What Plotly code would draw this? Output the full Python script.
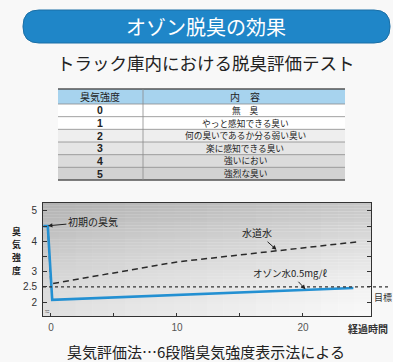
import plotly.graph_objects as go

W, H = 393, 362

# ---------------- data ----------------
ozone_t = [-0.6, -0.25, 0.1, 24.0]
ozone_v = [4.5, 4.5, 2.07, 2.46]
tap_t = [-0.25, 0.0, 10.0, 20.0, 24.3]
tap_v = [4.5, 2.6, 3.32, 3.79, 3.98]
target_v = 2.5
y_tickvals = [2, 2.5, 3, 3.5, 4, 4.5, 5]
y_ticktext = ["2", "2.5", "3", "", "4", "", "5"]
x_tickvals = [0, 5, 10, 15, 20]
x_ticktext = ["0", "", "10", "", "20"]
table_header = ["臭気強度", "内　容"]
intensity_levels = ["0", "1", "2", "3", "4", "5"]
intensity_desc = ["無　臭", "やっと感知できる臭い", "何の臭いであるか分る弱い臭い",
                  "楽に感知できる臭い", "強いにおい", "強烈な臭い"]
row_fills = ["#ffffff", "#ffffff", "#eeeeee", "#e5e5e5", "#dbdbdb", "#d2d2d2"]

JP = "Noto Sans CJK JP"
NUM = "Liberation Sans"


def X(p):
    return p / W


def Y(p):
    return 1 - p / H


# plot area in pixels
L, R, T, B = 43, 371, 203, 316

fig = go.Figure()

fig.add_trace(go.Scatter(x=tap_t, y=tap_v, mode="lines",
                         line=dict(color="#2a2a2a", width=1.5, dash="6px,4px"),
                         hoverinfo="skip"))
fig.add_trace(go.Scatter(x=ozone_t, y=ozone_v, mode="lines",
                         line=dict(color="#2390d2", width=2.6),
                         hoverinfo="skip"))

shapes = []
annotations = []


def text(xp, yp, s, size, color="#222222", family=JP, xanchor="center", yanchor="middle"):
    annotations.append(dict(xref="paper", yref="paper", x=X(xp), y=Y(yp), text=s,
                            showarrow=False, xanchor=xanchor, yanchor=yanchor,
                            borderpad=0,
                            font=dict(family=family, size=size, color=color)))


# plot background gradient (vertical)
n = 40
for i in range(n):
    y0 = B - (B - T) * i / n
    y1 = B - (B - T) * (i + 1) / n
    f = (i + 0.5) / n
    g = int(250 - 52 * f ** 1.4)
    shapes.append(dict(type="rect", xref="paper", yref="paper", layer="below",
                       x0=X(L), x1=X(R), y0=Y(y0), y1=Y(y1),
                       fillcolor=f"rgb({g},{g},{g})", line=dict(width=0)))
# horizontal darkening toward left
m = 20
for i in range(m):
    x0 = L + (R - L) * i / m
    x1 = L + (R - L) * (i + 1) / m
    a = 0.10 * (1 - (i + 0.5) / m)
    shapes.append(dict(type="rect", xref="paper", yref="paper", layer="below",
                       x0=X(x0), x1=X(x1), y0=Y(B), y1=Y(T),
                       fillcolor=f"rgba(0,0,0,{a:.3f})", line=dict(width=0)))

# target dotted line
shapes.append(dict(type="line", xref="paper", yref="y", x0=X(L), x1=X(391),
                   y0=target_v, y1=target_v,
                   line=dict(color="#333333", width=1.2, dash="dot")))

# banner
bx0, bx1, by0, by1, r = 23, 390, 10, 43, 16
path = (f"M {X(bx0 + r)} {Y(by0)} L {X(bx1 - r)} {Y(by0)} "
        f"Q {X(bx1)} {Y(by0)} {X(bx1)} {Y(by0 + r)} L {X(bx1)} {Y(by1 - r)} "
        f"Q {X(bx1)} {Y(by1)} {X(bx1 - r)} {Y(by1)} L {X(bx0 + r)} {Y(by1)} "
        f"Q {X(bx0)} {Y(by1)} {X(bx0)} {Y(by1 - r)} L {X(bx0)} {Y(by0 + r)} "
        f"Q {X(bx0)} {Y(by0)} {X(bx0 + r)} {Y(by0)} Z")
shapes.append(dict(type="path", xref="paper", yref="paper", path=path,
                   fillcolor="#1f86c8", line=dict(color="#1a6fa6", width=1)))
text(206, 27, "オゾン脱臭の効果", 20, color="#ffffff")
text(206, 62, "トラック庫内における脱臭評価テスト", 17.5)

# table
tx0, tdiv, tx1 = 58, 143, 345
row_edges = [89, 104, 116.67, 129.33, 142, 154.67, 167.33, 180]
shapes.append(dict(type="rect", xref="paper", yref="paper", layer="below",
                   x0=X(tx0), x1=X(tx1), y0=Y(row_edges[0]), y1=Y(row_edges[1]),
                   fillcolor="#a7d3ee", line=dict(width=0)))
for i, fc in enumerate(row_fills):
    shapes.append(dict(type="rect", xref="paper", yref="paper", layer="below",
                       x0=X(tx0), x1=X(tx1), y0=Y(row_edges[i + 1]), y1=Y(row_edges[i + 2]),
                       fillcolor=fc, line=dict(width=0)))
for k, ye in enumerate(row_edges):
    heavy = k in (0, len(row_edges) - 1)
    shapes.append(dict(type="line", xref="paper", yref="paper",
                       x0=X(tx0), x1=X(tx1), y0=Y(ye), y1=Y(ye),
                       line=dict(color="#555555" if heavy else "#8a8a8a",
                                 width=1.5 if heavy else 0.8)))
shapes.append(dict(type="line", xref="paper", yref="paper",
                   x0=X(tdiv), x1=X(tdiv), y0=Y(row_edges[0]), y1=Y(row_edges[-1]),
                   line=dict(color="#8a8a8a", width=0.8)))
c1 = (tx0 + tdiv) / 2
c2 = (tdiv + tx1) / 2 + 1
hy = (row_edges[0] + row_edges[1]) / 2 - 0.5
text(c1, hy, table_header[0], 10)
text(c2, hy, table_header[1], 10)
for i, (lv, ds) in enumerate(zip(intensity_levels, intensity_desc)):
    cy = (row_edges[i + 1] + row_edges[i + 2]) / 2
    text(c1, cy, f"<b>{lv}</b>", 10.5, family=NUM)
    text(c2, cy, ds, 8.7)

# chart annotations with arrows
annotations.append(dict(x=-0.24, y=4.51, xref="x", yref="y", text="初期の臭気",
                        ax=45, ay=-4, showarrow=True, arrowhead=2, arrowsize=0.9,
                        arrowwidth=1, arrowcolor="#222222",
                        font=dict(family=JP, size=10, color="#222222")))
annotations.append(dict(x=17.9, y=3.72, xref="x", yref="y", text="水道水",
                        ax=-19, ay=-17, showarrow=True, arrowhead=2, arrowsize=0.9,
                        arrowwidth=1, arrowcolor="#222222",
                        font=dict(family=JP, size=10, color="#222222")))
annotations.append(dict(x=20.2, y=2.42, xref="x", yref="y", text="オゾン水0.5mg/ℓ",
                        ax=-15, ay=-16, showarrow=True, arrowhead=2, arrowsize=0.9,
                        arrowwidth=1, arrowcolor="#222222",
                        font=dict(family=JP, size=9.5, color="#222222")))
annotations.append(dict(x=-0.24, y=1.70, xref="x", yref="y", text="≈", showarrow=False,
                        xanchor="center", yanchor="middle",
                        font=dict(family=NUM, size=8, color="#666666")))
for j, ch in enumerate("臭気強度"):
    text(16, 231 + 13 * j, f"<b>{ch}</b>", 8.9)
text(389, 328, "<b>経過時間</b>", 10, color="#333333", xanchor="right")
text(373, 297, "目標", 9, color="#333333", xanchor="left")
text(206, 351, "臭気評価法…6段階臭気強度表示法による", 15)

fig.update_layout(
    template="none",
    width=W, height=H,
    margin=dict(l=0, r=0, t=0, b=0, pad=0),
    paper_bgcolor="#f8f8f8",
    plot_bgcolor="#fafafa",
    showlegend=False,
    hovermode=False,
    shapes=shapes,
    annotations=annotations,
    xaxis=dict(domain=[X(L), X(R)], range=[-0.63, 25.4], automargin=False,
               showgrid=False, zeroline=False, showline=True, mirror=True,
               linecolor="#333333", linewidth=1,
               tickmode="array", tickvals=x_tickvals, ticktext=x_ticktext,
               ticks="inside", ticklen=3, tickcolor="#333333",
               tickfont=dict(family=NUM, size=10, color="#555555"),
               ticklabelstandoff=2),
    yaxis=dict(domain=[Y(B), Y(T)], range=[1.54, 5.26], automargin=False,
               showgrid=False, zeroline=False, showline=True, mirror="ticks",
               linecolor="#333333", linewidth=1,
               tickmode="array", tickvals=y_tickvals, ticktext=y_ticktext,
               ticks="inside", ticklen=4, tickcolor="#333333",
               tickfont=dict(family=NUM, size=10, color="#333333"),
               ticklabelstandoff=3),
)

fig.write_html("out.html", config={"displayModeBar": False},
               post_script="document.body.style.margin='0px';")
